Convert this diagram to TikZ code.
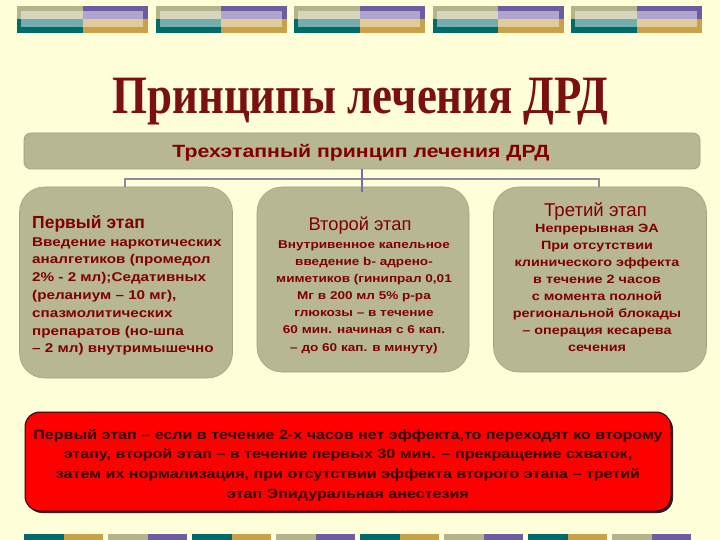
\documentclass[tikz,border=0pt]{standalone}
\usepackage{fontspec}
\setmainfont{Liberation Sans}
\newfontfamily\bodyfont[FakeStretch=1.2]{Liberation Sans}
\newfontfamily\hdfont{Liberation Sans}
\newfontfamily\titlefont[FakeStretch=0.83]{Liberation Serif}
\usetikzlibrary{shadows}
\definecolor{bgc}{HTML}{FEFED8}
\definecolor{boxfill}{HTML}{B8B794}
\definecolor{boxedge}{HTML}{A4A282}
\definecolor{dred}{HTML}{800000}
\definecolor{ttlred}{HTML}{7A1010}
\definecolor{darktxt}{HTML}{2E0000}
\definecolor{conn}{HTML}{8A8AA0}
\definecolor{connc}{HTML}{7070B0}
\definecolor{stan}{HTML}{B5B38A}
\definecolor{steal}{HTML}{006B6B}
\definecolor{spurple}{HTML}{6C5DA3}
\definecolor{sgold}{HTML}{C9A146}
\newcommand\bodyset[2]{\bodyfont\bfseries\fontsize{#1}{#2}\selectfont}
\begin{document}
\begin{tikzpicture}[x=1pt,y=-1pt,
  topbox/.style={draw=boxedge, fill=boxfill, rounded corners=7pt, line width=0.8pt, inner sep=0pt},
  stagebox/.style={draw=boxedge, fill=boxfill, rounded corners=25pt, line width=0.6pt, inner sep=0pt},
  redbox/.style={draw=black!85!red, fill=red, rounded corners=15pt, line width=1pt, inner sep=0pt,
     drop shadow={shadow xshift=2pt, shadow yshift=-2pt, fill=black!85, opacity=1}},
  txt/.style={inner sep=0pt, text=dred},
  connline/.style={draw=conn, line width=1.8pt},
  conncenter/.style={draw=connc, line width=2pt}
]
\useasboundingbox (0,0) rectangle (720,540);
\fill[bgc] (0,0) rectangle (720,540);

% top decorative strip
\foreach \i in {0,...,4}{
  \pgfmathsetmacro{\xa}{17+138.5*\i}
  \pgfmathsetmacro{\xb}{\xa+65.5}
  \pgfmathsetmacro{\xc}{\xa+131}
  \fill[stan] (\xa,6) rectangle (\xb,19.5);
  \fill[steal] (\xa,19.5) rectangle (\xb,33);
  \fill[spurple] (\xb,6) rectangle (\xc,19.5);
  \fill[sgold] (\xb,19.5) rectangle (\xc,33);
  \fill[white, opacity=0.45] (\xa+4,11) rectangle (\xc-5,27);
}
% bottom decorative strip
\foreach \k in {0,...,7}{
  \pgfmathsetmacro{\xa}{24+84*\k}
  \pgfmathsetmacro{\xb}{\xa+39.5}
  \pgfmathsetmacro{\xc}{\xa+79}
  \pgfmathparse{int(mod(\k,2))}
  \ifnum\pgfmathresult=0
    \fill[steal] (\xa,533.5) rectangle (\xb,540);
    \fill[sgold] (\xb,533.5) rectangle (\xc,540);
  \else
    \fill[stan] (\xa,533.5) rectangle (\xb,540);
    \fill[spurple] (\xb,533.5) rectangle (\xc,540);
  \fi
}

% title
\node[inner sep=0pt, text=ttlred, anchor=base] (title) at (360.5,114)
  {\titlefont\bfseries\fontsize{54}{60}\selectfont Принципы лечения ДРД};

% top box
\node[topbox, minimum width=676pt, minimum height=36pt] (top) at (362,151) {};
\node[txt, anchor=base] (toptext) at (361,158)
  {\bodyfont\bfseries\fontsize{17.7}{20}\selectfont Трехэтапный принцип лечения ДРД};

% stage boxes
\node[stagebox, minimum width=213pt, minimum height=191pt] (s1) at (126,282.5) {};
\node[stagebox, minimum width=212pt, minimum height=185pt] (s2) at (363,279.5) {};
\node[stagebox, minimum width=213pt, minimum height=185pt] (s3) at (600,279.5) {};

% connectors
\coordinate (hl) at (125,179);
\coordinate (hr) at (599,179);
\draw[connline] (s1.north -| hl) -- (hl) -- (hr) -- (s3.north -| hr);
\draw[conncenter] (top.south) -- ([yshift=-5pt]top.south |- s2.north);

% stage 1 text
\node[txt, anchor=base west] (s1h) at (32,229)
  {\hdfont\bfseries\fontsize{17.5}{20}\selectfont Первый этап};
\node[txt, anchor=base west] (s1t) at (32,246)
  {\bodyset{12.7}{17.83}\begin{tabular}[t]{@{}l@{}}
   Введение наркотических\\
   аналгетиков (промедол\\
   2\% - 2 мл);Седативных\\
   (реланиум – 10 мг),\\
   спазмолитических\\
   препаратов (но-шпа\\
   – 2 мл) внутримышечно
  \end{tabular}};

% stage 2 text
\node[txt, anchor=base] (s2h) at (360,230)
  {\hdfont\fontsize{18.3}{20}\selectfont Второй этап};
\node[txt, anchor=base] (s2t) at (364,248)
  {\bodyset{11.3}{17.17}\begin{tabular}[t]{@{}c@{}}
   Внутривенное капельное\\
   введение b- адрено-\\
   миметиков (гинипрал 0,01\\
   Мг в 200 мл 5\% р-ра\\
   глюкозы – в течение\\
   60 мин. начиная с 6 кап.\\
   – до 60 кап. в минуту)
  \end{tabular}};

% stage 3 text
\node[txt, anchor=base] (s3h) at (595.5,216)
  {\hdfont\fontsize{18.6}{20}\selectfont Третий этап};
\node[txt, anchor=base] (s3t) at (597,233)
  {\bodyset{12}{16.86}\begin{tabular}[t]{@{}c@{}}
   Непрерывная ЭА\\
   При отсутствии\\
   клинического эффекта\\
   в течение 2 часов\\
   с момента полной\\
   региональной блокады\\
   – операция кесарева\\
   сечения
  \end{tabular}};

% red box
\node[redbox, minimum width=646pt, minimum height=99pt] (warn) at (348,461.5) {};
\node[inner sep=0pt, text=darktxt, anchor=base] (warntext) at (348,439)
  {\bodyset{13.4}{19.7}\begin{tabular}[t]{@{}c@{}}
   Первый этап – если в течение 2-х часов нет эффекта,то переходят ко второму\\
   этапу, второй этап – в течение первых 30 мин. – прекращение схваток,\\
   затем их нормализация,  при отсутствии эффекта второго этапа – третий\\
   этап Эпидуральная анестезия
  \end{tabular}};
\end{tikzpicture}
\end{document}
